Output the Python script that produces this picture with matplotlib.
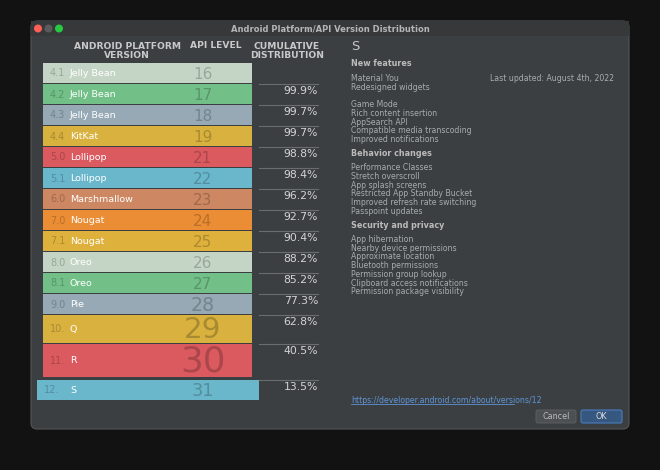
import matplotlib
matplotlib.use("Agg")
from matplotlib import pyplot as plt
from matplotlib.patches import Rectangle, FancyBboxPatch, Circle
import matplotlib.colors as mc

# Data
versions = ["4.1", "4.2", "4.3", "4.4", "5.0", "5.1", "6.0", "7.0", "7.1",
            "8.0", "8.1", "9.0", "10.", "11.", "12."]
names = ["Jelly Bean", "Jelly Bean", "Jelly Bean", "KitKat", "Lollipop", "Lollipop",
         "Marshmallow", "Nougat", "Nougat", "Oreo", "Oreo", "Pie", "Q", "R", "S"]
api_levels = [16, 17, 18, 19, 21, 22, 23, 24, 25, 26, 27, 28, 29, 30, 31]
cumulative = [100.0, 99.9, 99.7, 99.7, 98.8, 98.4, 96.2, 92.7, 90.4,
              88.2, 85.2, 77.3, 62.8, 40.5, 13.5]
row_colors = ["#c5d5c5", "#72bf88", "#96a9b5", "#d8b13e", "#db5a5f", "#6ab6cb",
              "#cd8762", "#eb8d35", "#deb13c", "#c5d5c5", "#72bf88", "#96a9b5",
              "#d8b13e", "#db5a5f", "#6ab6cb"]

features = {
    "New features": ["Material You", "Redesigned widgets", "",
                     "Game Mode", "Rich content insertion", "AppSearch API",
                     "Compatible media transcoding", "Improved notifications"],
    "Behavior changes": ["Performance Classes", "Stretch overscroll", "App splash screens",
                         "Restricted App Standby Bucket", "Improved refresh rate switching",
                         "Passpoint updates"],
    "Security and privacy": ["App hibernation", "Nearby device permissions",
                             "Approximate location", "Bluetooth permissions",
                             "Permission group lookup", "Clipboard access notifications",
                             "Permission package visibility"],
}

fig = plt.figure(figsize=(6.6, 4.7), dpi=100)
fig.patch.set_facecolor("#121212")
ax = fig.add_axes([0, 0, 1, 1])
ax.set_xlim(0, 660)
ax.set_ylim(470, 0)
ax.axis("off")

# window
ax.add_patch(FancyBboxPatch((31, 21), 598, 408, boxstyle="round,pad=0,rounding_size=6",
                            facecolor="#3c3f41", edgecolor="#555555", lw=0.8))
ax.add_patch(Rectangle((31, 21), 598, 15, facecolor="#363839", lw=0))
ax.text(330, 28.5, "Android Platform/API Version Distribution", ha="center", va="center",
        fontsize=6, color="#b5b5b5", fontweight="bold")
for cx, col in zip([38, 48.5, 59], ["#fe5f57", "#5b5b5b", "#28c840"]):
    ax.add_patch(Circle((cx, 28.5), 3.3, color=col))

# headers
hcol = "#c9c9c9"
ax.text(127, 51, "ANDROID PLATFORM\nVERSION", ha="center", va="center", fontsize=6.6,
        color=hcol, fontweight="bold", linespacing=1.0)
ax.text(216, 45, "API LEVEL", ha="center", va="center", fontsize=6.6, color=hcol, fontweight="bold")
ax.text(287, 51, "CUMULATIVE\nDISTRIBUTION", ha="center", va="center", fontsize=6.6,
        color=hcol, fontweight="bold", linespacing=1.0)

# rows
y = 63
n = len(versions)
for i in range(n):
    nxt = cumulative[i + 1] if i + 1 < n else 0.0
    share = cumulative[i] - nxt
    h = max(21.0, 1.28 * share)
    last = i == n - 1
    if last:
        y += 1.5
    x0, x1 = (37, 259) if last else (43, 252)
    ax.add_patch(Rectangle((x0, y), x1 - x0, h - 1, facecolor=row_colors[i], lw=0))
    dark = tuple(c * 0.78 for c in mc.to_rgb(row_colors[i]))
    ym = y + h / 2
    ax.text(x0 + 7, ym, versions[i], ha="left", va="center", fontsize=7, color=dark)
    ax.text(70, ym, names[i], ha="left", va="center", fontsize=6.8, color="white")
    ax.text(203, ym + 1, str(api_levels[i]), ha="center", va="center",
            fontsize=max(11.0, 0.95 * share), color=dark)
    if i > 0:
        ax.plot([259, 318], [y, y], color="#6a6d70", lw=0.8)
        ax.text(318, y + 2, "%.1f%%" % cumulative[i], ha="right", va="top",
                fontsize=7.8, color="#d4d4d4")
    y += h

# right panel
tcol = "#a9acae"
ax.text(351, 46, "S", ha="left", va="center", fontsize=9.5, color="#c6c6c6")
ax.text(490, 78.5, "Last updated: August 4th, 2022", ha="left", va="center", fontsize=5.6, color=tcol)
yy = 64
for head, items in features.items():
    ax.text(351, yy, head, ha="left", va="center", fontsize=5.8, color="#bbbbbb", fontweight="bold")
    yy += 14.3
    for it in items:
        ax.text(351, yy, it, ha="left", va="center", fontsize=5.6, color=tcol)
        yy += 8.75
    yy += 5

ax.text(351, 400.5, "https://developer.android.com/about/versions/12", ha="left", va="center",
        fontsize=5.6, color="#5d95d8")
ax.plot([351, 514], [404, 404], color="#5d95d8", lw=0.6)
ax.add_patch(FancyBboxPatch((536, 410), 40, 13, boxstyle="round,pad=0,rounding_size=2",
                            facecolor="#4c5052", edgecolor="#5e6163", lw=0.6))
ax.text(556, 416.5, "Cancel", ha="center", va="center", fontsize=5.8, color="#bbbbbb")
ax.add_patch(FancyBboxPatch((581, 410), 41, 13, boxstyle="round,pad=0,rounding_size=2",
                            facecolor="#365880", edgecolor="#4a7bbf", lw=0.8))
ax.text(601.5, 416.5, "OK", ha="center", va="center", fontsize=5.8, color="#dddddd")

fig.savefig("out.png", dpi=100, facecolor=fig.get_facecolor())
